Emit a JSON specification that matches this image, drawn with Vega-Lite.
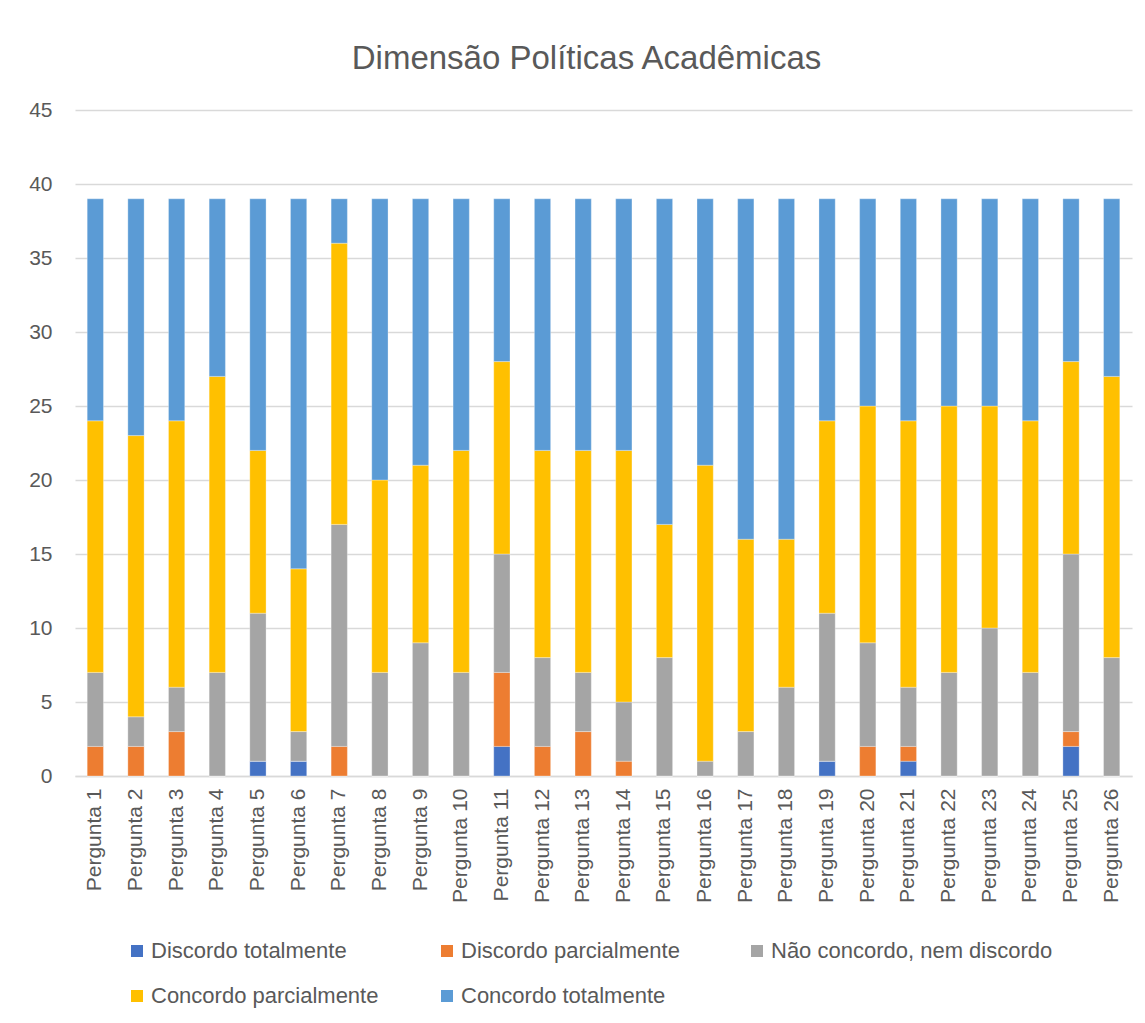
{
  "$schema": "https://vega.github.io/schema/vega-lite/v6.json",
  "width": 1057,
  "height": 666,
  "padding": {"left": 28, "top": 43, "right": 10, "bottom": 10},
  "background": "white",
  "title": {"text": "Dimensão Políticas Acadêmicas", "fontSize": 33, "font": "Liberation Sans", "fontWeight": "normal", "color": "#595959", "offset": 23, "anchor": "middle", "dx": -17},
  "data": {"values": [
    {"q": "Pergunta 1", "Discordo totalmente": 0, "Discordo parcialmente": 2, "Não concordo, nem discordo": 5, "Concordo parcialmente": 17, "Concordo totalmente": 15},
    {"q": "Pergunta 2", "Discordo totalmente": 0, "Discordo parcialmente": 2, "Não concordo, nem discordo": 2, "Concordo parcialmente": 19, "Concordo totalmente": 16},
    {"q": "Pergunta 3", "Discordo totalmente": 0, "Discordo parcialmente": 3, "Não concordo, nem discordo": 3, "Concordo parcialmente": 18, "Concordo totalmente": 15},
    {"q": "Pergunta 4", "Discordo totalmente": 0, "Discordo parcialmente": 0, "Não concordo, nem discordo": 7, "Concordo parcialmente": 20, "Concordo totalmente": 12},
    {"q": "Pergunta 5", "Discordo totalmente": 1, "Discordo parcialmente": 0, "Não concordo, nem discordo": 10, "Concordo parcialmente": 11, "Concordo totalmente": 17},
    {"q": "Pergunta 6", "Discordo totalmente": 1, "Discordo parcialmente": 0, "Não concordo, nem discordo": 2, "Concordo parcialmente": 11, "Concordo totalmente": 25},
    {"q": "Pergunta 7", "Discordo totalmente": 0, "Discordo parcialmente": 2, "Não concordo, nem discordo": 15, "Concordo parcialmente": 19, "Concordo totalmente": 3},
    {"q": "Pergunta 8", "Discordo totalmente": 0, "Discordo parcialmente": 0, "Não concordo, nem discordo": 7, "Concordo parcialmente": 13, "Concordo totalmente": 19},
    {"q": "Pergunta 9", "Discordo totalmente": 0, "Discordo parcialmente": 0, "Não concordo, nem discordo": 9, "Concordo parcialmente": 12, "Concordo totalmente": 18},
    {"q": "Pergunta 10", "Discordo totalmente": 0, "Discordo parcialmente": 0, "Não concordo, nem discordo": 7, "Concordo parcialmente": 15, "Concordo totalmente": 17},
    {"q": "Pergunta 11", "Discordo totalmente": 2, "Discordo parcialmente": 5, "Não concordo, nem discordo": 8, "Concordo parcialmente": 13, "Concordo totalmente": 11},
    {"q": "Pergunta 12", "Discordo totalmente": 0, "Discordo parcialmente": 2, "Não concordo, nem discordo": 6, "Concordo parcialmente": 14, "Concordo totalmente": 17},
    {"q": "Pergunta 13", "Discordo totalmente": 0, "Discordo parcialmente": 3, "Não concordo, nem discordo": 4, "Concordo parcialmente": 15, "Concordo totalmente": 17},
    {"q": "Pergunta 14", "Discordo totalmente": 0, "Discordo parcialmente": 1, "Não concordo, nem discordo": 4, "Concordo parcialmente": 17, "Concordo totalmente": 17},
    {"q": "Pergunta 15", "Discordo totalmente": 0, "Discordo parcialmente": 0, "Não concordo, nem discordo": 8, "Concordo parcialmente": 9, "Concordo totalmente": 22},
    {"q": "Pergunta 16", "Discordo totalmente": 0, "Discordo parcialmente": 0, "Não concordo, nem discordo": 1, "Concordo parcialmente": 20, "Concordo totalmente": 18},
    {"q": "Pergunta 17", "Discordo totalmente": 0, "Discordo parcialmente": 0, "Não concordo, nem discordo": 3, "Concordo parcialmente": 13, "Concordo totalmente": 23},
    {"q": "Pergunta 18", "Discordo totalmente": 0, "Discordo parcialmente": 0, "Não concordo, nem discordo": 6, "Concordo parcialmente": 10, "Concordo totalmente": 23},
    {"q": "Pergunta 19", "Discordo totalmente": 1, "Discordo parcialmente": 0, "Não concordo, nem discordo": 10, "Concordo parcialmente": 13, "Concordo totalmente": 15},
    {"q": "Pergunta 20", "Discordo totalmente": 0, "Discordo parcialmente": 2, "Não concordo, nem discordo": 7, "Concordo parcialmente": 16, "Concordo totalmente": 14},
    {"q": "Pergunta 21", "Discordo totalmente": 1, "Discordo parcialmente": 1, "Não concordo, nem discordo": 4, "Concordo parcialmente": 18, "Concordo totalmente": 15},
    {"q": "Pergunta 22", "Discordo totalmente": 0, "Discordo parcialmente": 0, "Não concordo, nem discordo": 7, "Concordo parcialmente": 18, "Concordo totalmente": 14},
    {"q": "Pergunta 23", "Discordo totalmente": 0, "Discordo parcialmente": 0, "Não concordo, nem discordo": 10, "Concordo parcialmente": 15, "Concordo totalmente": 14},
    {"q": "Pergunta 24", "Discordo totalmente": 0, "Discordo parcialmente": 0, "Não concordo, nem discordo": 7, "Concordo parcialmente": 17, "Concordo totalmente": 15},
    {"q": "Pergunta 25", "Discordo totalmente": 2, "Discordo parcialmente": 1, "Não concordo, nem discordo": 12, "Concordo parcialmente": 13, "Concordo totalmente": 11},
    {"q": "Pergunta 26", "Discordo totalmente": 0, "Discordo parcialmente": 0, "Não concordo, nem discordo": 8, "Concordo parcialmente": 19, "Concordo totalmente": 12}
  ]},
  "transform": [
    {"fold": ["Discordo totalmente", "Discordo parcialmente", "Não concordo, nem discordo", "Concordo parcialmente", "Concordo totalmente"], "as": ["resposta", "valor"]}
  ],
  "mark": {"type": "bar", "stroke": "white", "strokeWidth": 0.5, "strokeOpacity": 0.6},
  "encoding": {
    "x": {
      "field": "q", "type": "nominal", "sort": null,
      "scale": {"paddingInner": 0.6, "paddingOuter": 0.3},
      "axis": {"title": null, "labelAngle": -90, "labelFontSize": 21, "labelFont": "Liberation Sans", "labelColor": "#595959", "labelPadding": 12, "ticks": false, "domainColor": "#D9D9D9", "domainWidth": 1.3, "grid": false}
    },
    "y": {
      "field": "valor", "type": "quantitative", "stack": "zero",
      "scale": {"domain": [0, 45], "nice": false},
      "axis": {"title": null, "values": [0, 5, 10, 15, 20, 25, 30, 35, 40, 45], "labelFontSize": 21, "labelFont": "Liberation Sans", "labelColor": "#595959", "labelPadding": 23, "ticks": false, "domain": false, "gridColor": "#D9D9D9", "gridWidth": 1.3}
    },
    "color": {
      "field": "resposta", "type": "nominal",
      "sort": ["Discordo totalmente", "Discordo parcialmente", "Não concordo, nem discordo", "Concordo parcialmente", "Concordo totalmente"],
      "scale": {"domain": ["Discordo totalmente", "Discordo parcialmente", "Não concordo, nem discordo", "Concordo parcialmente", "Concordo totalmente"], "range": ["#4472C4", "#ED7D31", "#A5A5A5", "#FFC000", "#5B9BD5"]},
      "legend": {"title": null, "orient": "none", "legendX": 51, "legendY": 830, "direction": "horizontal", "columns": 3, "gridAlign": "all", "columnPadding": 3, "rowPadding": 23, "padding": 0, "symbolType": "square", "symbolSize": 144, "symbolStrokeWidth": 0, "symbolOffset": 0, "labelOffset": 3, "labelFontSize": 22, "labelFont": "Liberation Sans", "labelColor": "#595959", "labelLimit": 400}
    },
    "order": {"field": "ord", "type": "quantitative"}
  },
  "config": {"view": {"stroke": null}, "font": "Liberation Sans"}
}
